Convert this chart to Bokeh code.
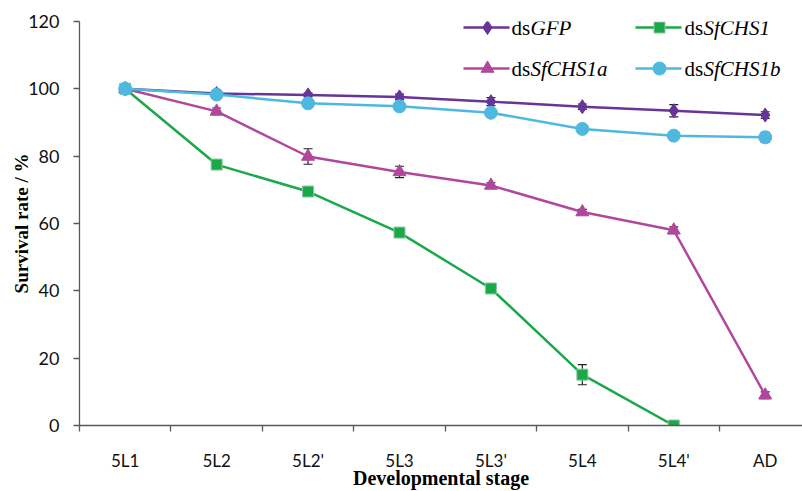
from bokeh.plotting import figure
from bokeh.models import (Range1d, FixedTicker, LinearAxis, Whisker, ColumnDataSource, TeeHead)
from bokeh.core.properties import value
from bokeh.embed import file_html
from bokeh.resources import INLINE

stages = ["5L1", "5L2", "5L2'", "5L3", "5L3'", "5L4", "5L4'", "AD"]

gfp = [100, 98.6, 98.2, 97.6, 96.2, 94.7, 93.5, 92.2]
gfp_err = [0, 0.5, 0.5, 0.8, 1.2, 0.8, 1.8, 1.0]

chs1 = [100, 77.5, 69.5, 57.3, 40.7, 15.1, 0]
chs1_err = [0, 0.5, 0.8, 0.6, 0.8, 3.0, 0.5]

chs1a = [100, 93.3, 79.9, 75.3, 71.3, 63.4, 58.0, 9.0]
chs1a_err = [0, 1.0, 2.3, 1.7, 0.8, 0.8, 1.0, 1.0]

chs1b = [100, 98.3, 95.7, 94.8, 92.9, 88.1, 86.1, 85.6]
chs1b_err = [0, 0.6, 0.6, 0.6, 0.7, 1.0, 1.0, 1.5]

y_ticks = [0, 20, 40, 60, 80, 100, 120]

C_GFP = "#673499"
C_CHS1 = "#1BA84B"
C_CHS1A = "#B1479D"
C_CHS1B = "#4FB8DF"
AXIS_C = "#595959"

centers = [i + 0.5 for i in range(len(stages))]
bounds = [float(i) for i in range(len(stages) + 1)]

p = figure(width=802, height=491, x_range=Range1d(0, 7.908), y_range=Range1d(0, 120),
           output_backend="svg", toolbar_location=None,
           min_border_left=79, min_border_right=0, min_border_top=21, min_border_bottom=66,
           x_axis_type=None, y_axis_type=None)
p.outline_line_color = None
p.background_fill_color = "white"
p.border_fill_color = "white"

# x axis
xa = LinearAxis(ticker=FixedTicker(ticks=centers, minor_ticks=bounds))
xa.major_label_overrides = {c: s for c, s in zip(centers, stages)}
xa.major_tick_out = 0
xa.major_tick_in = 0
xa.minor_tick_out = 6
xa.minor_tick_in = 0
xa.minor_tick_line_color = AXIS_C
xa.minor_tick_line_width = 1.3
xa.axis_line_color = AXIS_C
xa.axis_line_width = 1.3
xa.major_label_text_font = "Lato"
xa.major_label_text_font_size = "17px"
xa.major_label_text_color = "#111111"
xa.major_label_standoff = 18
xa.axis_label = "Developmental stage"
xa.axis_label_text_font = "Liberation Serif"
xa.axis_label_text_font_style = "bold"
xa.axis_label_text_font_size = "20px"
xa.axis_label_text_color = "#000000"
xa.axis_label_standoff = -7
p.add_layout(xa, "below")

# y axis
ya = LinearAxis(ticker=FixedTicker(ticks=y_ticks))
ya.major_tick_out = 6
ya.major_tick_in = 0
ya.minor_tick_out = 0
ya.minor_tick_in = 0
ya.major_tick_line_color = AXIS_C
ya.major_tick_line_width = 1.3
ya.axis_line_color = AXIS_C
ya.axis_line_width = 1.3
ya.major_label_text_font = "Lato"
ya.major_label_text_font_size = "18px"
ya.major_label_text_color = "#111111"
ya.major_label_standoff = 14
ya.axis_label = "Survival rate / %"
ya.axis_label_text_font = "Liberation Serif"
ya.axis_label_text_font_style = "bold"
ya.axis_label_text_font_size = "19px"
ya.axis_label_text_color = "#000000"
ya.axis_label_standoff = -7
p.add_layout(ya, "left")

p.xgrid.visible = False
p.ygrid.visible = False

series = [
    (gfp, gfp_err, C_GFP, "diamond", 14, C_GFP),
    (chs1, chs1_err, C_CHS1, "square", 11, "#8CC79B"),
    (chs1a, chs1a_err, C_CHS1A, "triangle", 13, C_CHS1A),
    (chs1b, chs1b_err, C_CHS1B, "circle", 13, C_CHS1B),
]

# error bars (behind the markers)
for vals, errs, col, mk, sz, lc in series:
    xs = centers[:len(vals)]
    src = ColumnDataSource(dict(x=xs,
                                upper=[v + e for v, e in zip(vals, errs)],
                                lower=[v - e for v, e in zip(vals, errs)]))
    w = Whisker(base="x", upper="upper", lower="lower", source=src,
                line_color="#222222", line_width=1.2, level="underlay",
                upper_head=TeeHead(size=9, line_color="#222222", line_width=1.2),
                lower_head=TeeHead(size=9, line_color="#222222", line_width=1.2))
    p.add_layout(w)

for vals, errs, col, mk, sz, lc in series:
    xs = centers[:len(vals)]
    p.line(xs, vals, line_color=col, line_width=2.5)
    p.scatter(xs, vals, marker=mk, size=sz, fill_color=col, line_color=lc, line_width=1)

# manual legend (positions in screen pixels converted to data coords)
X0, Y0 = 79.0, 425.0
PX_X = 723.0 / 7.908
PX_Y = 404.0 / 120.0
def dx(px):
    return (px - X0) / PX_X
def dy(py):
    return (Y0 - py) / PX_Y

legend = [
    ("GFP", C_GFP, "diamond", 14, C_GFP, 463, 509, 487, 511, 27),
    ("SfCHS1", C_CHS1, "square", 11, "#8CC79B", 635, 681, 659, 684, 27),
    ("SfCHS1a", C_CHS1A, "triangle", 13, C_CHS1A, 463, 509, 487, 511, 68),
    ("SfCHS1b", C_CHS1B, "circle", 13, C_CHS1B, 635, 681, 659, 684, 68),
]
for name, col, mk, sz, lc, lx1, lx2, mx, tx, ty in legend:
    p.line([dx(lx1), dx(lx2)], [dy(ty), dy(ty)], line_color=col, line_width=2.5)
    p.scatter([dx(mx)], [dy(ty)], marker=mk, size=sz, fill_color=col, line_color=lc, line_width=1)
    p.text([dx(tx)], [dy(ty)], text=["ds"], text_font=value("Liberation Serif"),
           text_font_size="21px", text_baseline="middle", text_align="left", text_color="#000000")
    p.text([dx(tx)], [dy(ty)], text=[name], text_font=value("Liberation Serif"),
           text_font_style="italic", x_offset=19,
           text_font_size="21px", text_baseline="middle", text_align="left", text_color="#000000")

open("out.html", "w").write(file_html(p, INLINE))
